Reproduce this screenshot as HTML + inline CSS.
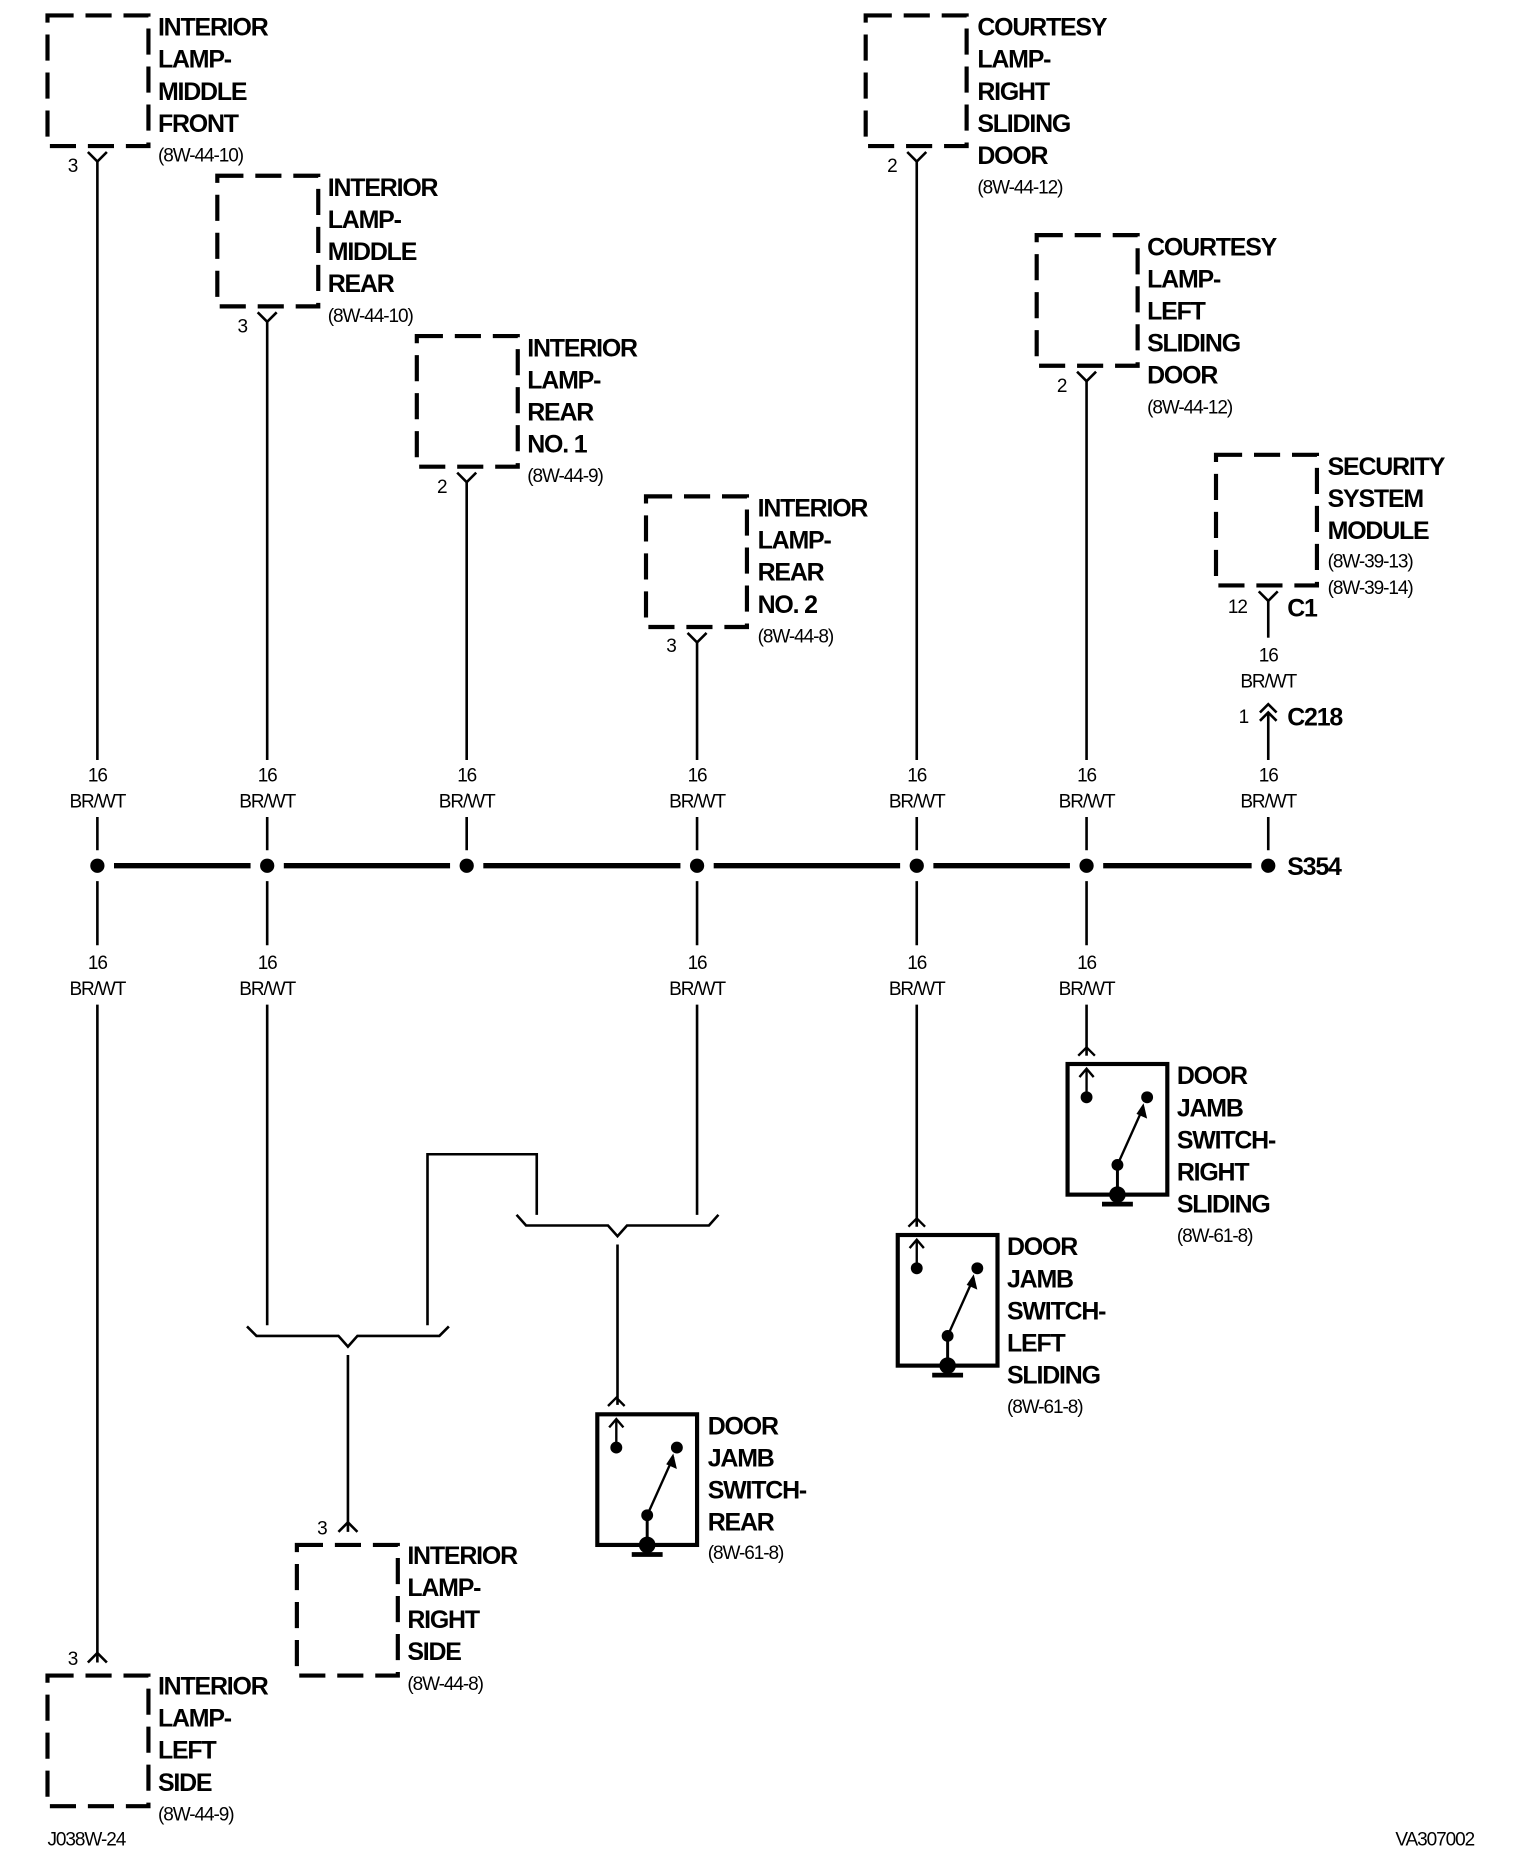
<!DOCTYPE html>
<html><head><meta charset="utf-8"><style>
html,body{margin:0;padding:0;background:#fff;}
svg{display:block;}
.b{font-family:"Liberation Sans",sans-serif;font-weight:bold;font-size:21px;letter-spacing:-1px;fill:#000;}
.s{font-family:"Liberation Sans",sans-serif;font-size:16px;letter-spacing:-0.9px;fill:#000;}
.w{font-family:"Liberation Sans",sans-serif;font-size:16px;letter-spacing:-0.9px;fill:#000;text-anchor:middle;}
</style></head><body>
<svg width="1520" height="1862" viewBox="0 0 1280 1568" preserveAspectRatio="none" xmlns="http://www.w3.org/2000/svg">
<defs>
<g id="dbox"><rect x="0" y="0" width="85" height="110" fill="none" stroke="#000" stroke-width="3.5" stroke-dasharray="22 10" stroke-dashoffset="0"/></g>
<g id="sw" fill="none" stroke="#000">
<rect x="0" y="0" width="84" height="110" stroke-width="3.5"/>
<polyline points="9,-7 16,-14 23,-7" stroke-width="2"/>
<line x1="16" y1="4" x2="16" y2="27" stroke-width="2"/>
<polyline points="10,11 16,4 22,11" stroke-width="2"/>
<line x1="42" y1="85" x2="64" y2="36" stroke-width="2"/>
<polygon points="64,33 67,46 58,42" fill="#000" stroke="none"/>
<line x1="42" y1="85" x2="42" y2="110" stroke-width="2.5"/>
<circle cx="16" cy="28" r="5" fill="#000" stroke="none"/>
<circle cx="67" cy="28" r="5" fill="#000" stroke="none"/>
<circle cx="42" cy="85" r="5" fill="#000" stroke="none"/>
<circle cx="42" cy="110" r="7" fill="#000" stroke="none"/>
<line x1="29" y1="118" x2="55" y2="118" stroke-width="4"/>
</g>
</defs>

<!-- dashed boxes -->
<use href="#dbox" x="40" y="13"/>
<use href="#dbox" x="183" y="148"/>
<use href="#dbox" x="351" y="283"/>
<use href="#dbox" x="544" y="418"/>
<use href="#dbox" x="729" y="13"/>
<use href="#dbox" x="873" y="198"/>
<use href="#dbox" x="1024" y="383"/>
<use href="#dbox" x="250" y="1301"/>
<use href="#dbox" x="40" y="1411"/>

<!-- switches -->
<use href="#sw" x="503" y="1191"/>
<use href="#sw" x="756" y="1040"/>
<use href="#sw" x="899" y="896"/>

<g fill="none" stroke="#000" stroke-width="2.2">
<!-- top Y connectors -->
<polyline points="74,128 82,136 90,128"/><polyline points="217,263 225,271 233,263"/>
<polyline points="385,398 393,406 401,398"/><polyline points="579,533 587,541 595,533"/>
<polyline points="764,128 772,136 780,128"/><polyline points="907,313 915,321 923,313"/>
<polyline points="1060,498 1068,506 1076,498"/>
<!-- upper wires -->
<line x1="82" y1="136" x2="82" y2="640"/><line x1="225" y1="271" x2="225" y2="640"/>
<line x1="393" y1="406" x2="393" y2="640"/><line x1="587" y1="541" x2="587" y2="640"/>
<line x1="772" y1="136" x2="772" y2="640"/><line x1="915" y1="321" x2="915" y2="640"/>
<line x1="1068" y1="506" x2="1068" y2="537"/>
<polyline points="1061,600 1068,593 1075,600"/><polyline points="1061,607 1068,600 1075,607"/>
<line x1="1068" y1="600" x2="1068" y2="640"/>
<line x1="82" y1="688" x2="82" y2="716"/><line x1="225" y1="688" x2="225" y2="716"/>
<line x1="393" y1="688" x2="393" y2="716"/><line x1="587" y1="688" x2="587" y2="716"/>
<line x1="772" y1="688" x2="772" y2="716"/><line x1="915" y1="688" x2="915" y2="716"/>
<line x1="1068" y1="688" x2="1068" y2="716"/>
<!-- lower stubs -->
<line x1="82" y1="742" x2="82" y2="796"/><line x1="225" y1="742" x2="225" y2="796"/>
<line x1="587" y1="742" x2="587" y2="796"/><line x1="772" y1="742" x2="772" y2="796"/>
<line x1="915" y1="742" x2="915" y2="796"/>
<!-- lower wires -->
<line x1="82" y1="846" x2="82" y2="1400"/><polyline points="74,1400 82,1392 90,1400"/>
<line x1="225" y1="846" x2="225" y2="1116"/>
<line x1="587" y1="846" x2="587" y2="1023"/>
<line x1="772" y1="846" x2="772" y2="1033"/>
<line x1="915" y1="846" x2="915" y2="889"/>
<polyline points="360,1116 360,972 452,972 452,1023"/>
<polyline points="208,1117 216,1125 285,1125 293,1134 301,1125 370,1125 378,1117"/>
<line x1="293" y1="1141" x2="293" y2="1290"/><polyline points="285,1290 293,1282 301,1290"/>
<polyline points="435,1023 443,1032 512,1032 520,1041 528,1032 597,1032 605,1023"/>
<line x1="520" y1="1048" x2="520" y2="1183"/>
</g>
<!-- splice -->
<g stroke="#000" stroke-width="4.5">
<line x1="96" y1="729" x2="211" y2="729"/><line x1="239" y1="729" x2="379" y2="729"/>
<line x1="407" y1="729" x2="573" y2="729"/><line x1="601" y1="729" x2="758" y2="729"/>
<line x1="786" y1="729" x2="901" y2="729"/><line x1="929" y1="729" x2="1054" y2="729"/>
</g>
<g fill="#000">
<circle cx="82" cy="729" r="6"/><circle cx="225" cy="729" r="6"/><circle cx="393" cy="729" r="6"/>
<circle cx="587" cy="729" r="6"/><circle cx="772" cy="729" r="6"/><circle cx="915" cy="729" r="6"/>
<circle cx="1068" cy="729" r="6"/>
</g>

<!-- wire labels -->
<g class="w">
<text x="82" y="658">16</text><text x="82" y="680">BR/WT</text>
<text x="225" y="658">16</text><text x="225" y="680">BR/WT</text>
<text x="393" y="658">16</text><text x="393" y="680">BR/WT</text>
<text x="587" y="658">16</text><text x="587" y="680">BR/WT</text>
<text x="772" y="658">16</text><text x="772" y="680">BR/WT</text>
<text x="915" y="658">16</text><text x="915" y="680">BR/WT</text>
<text x="1068" y="658">16</text><text x="1068" y="680">BR/WT</text>
<text x="82" y="816">16</text><text x="82" y="838">BR/WT</text>
<text x="225" y="816">16</text><text x="225" y="838">BR/WT</text>
<text x="587" y="816">16</text><text x="587" y="838">BR/WT</text>
<text x="772" y="816">16</text><text x="772" y="838">BR/WT</text>
<text x="915" y="816">16</text><text x="915" y="838">BR/WT</text>
<text x="1068" y="557">16</text><text x="1068" y="579">BR/WT</text>
</g>
<g class="s">
<text x="57" y="145">3</text><text x="200" y="280">3</text><text x="368" y="415">2</text>
<text x="561" y="549">3</text><text x="747" y="145">2</text><text x="890" y="330">2</text>
<text x="1034" y="516">12</text><text x="1043" y="609">1</text>
<text x="57" y="1402">3</text><text x="267" y="1292">3</text>
<text x="40" y="1554">J038W-24</text><text x="1175" y="1554">VA307002</text>
</g>
<g class="b">
<text x="1084" y="519">C1</text><text x="1084" y="611">C218</text><text x="1084" y="737">S354</text>
<text x="133" y="30">INTERIOR</text><text x="133" y="57">LAMP-</text><text x="133" y="84">MIDDLE</text><text x="133" y="111">FRONT</text>
<text x="276" y="165">INTERIOR</text><text x="276" y="192">LAMP-</text><text x="276" y="219">MIDDLE</text><text x="276" y="246">REAR</text>
<text x="444" y="300">INTERIOR</text><text x="444" y="327">LAMP-</text><text x="444" y="354">REAR</text><text x="444" y="381">NO. 1</text>
<text x="638" y="435">INTERIOR</text><text x="638" y="462">LAMP-</text><text x="638" y="489">REAR</text><text x="638" y="516">NO. 2</text>
<text x="823" y="30">COURTESY</text><text x="823" y="57">LAMP-</text><text x="823" y="84">RIGHT</text><text x="823" y="111">SLIDING</text><text x="823" y="138">DOOR</text>
<text x="966" y="215">COURTESY</text><text x="966" y="242">LAMP-</text><text x="966" y="269">LEFT</text><text x="966" y="296">SLIDING</text><text x="966" y="323">DOOR</text>
<text x="1118" y="400">SECURITY</text><text x="1118" y="427">SYSTEM</text><text x="1118" y="454">MODULE</text>
<text x="991" y="913">DOOR</text><text x="991" y="940">JAMB</text><text x="991" y="967">SWITCH-</text><text x="991" y="994">RIGHT</text><text x="991" y="1021">SLIDING</text>
<text x="848" y="1057">DOOR</text><text x="848" y="1084">JAMB</text><text x="848" y="1111">SWITCH-</text><text x="848" y="1138">LEFT</text><text x="848" y="1165">SLIDING</text>
<text x="596" y="1208">DOOR</text><text x="596" y="1235">JAMB</text><text x="596" y="1262">SWITCH-</text><text x="596" y="1289">REAR</text>
<text x="343" y="1317">INTERIOR</text><text x="343" y="1344">LAMP-</text><text x="343" y="1371">RIGHT</text><text x="343" y="1398">SIDE</text>
<text x="133" y="1427">INTERIOR</text><text x="133" y="1454">LAMP-</text><text x="133" y="1481">LEFT</text><text x="133" y="1508">SIDE</text>
</g>
<g class="s">
<text x="133" y="136">(8W-44-10)</text><text x="276" y="271">(8W-44-10)</text><text x="444" y="406">(8W-44-9)</text>
<text x="638" y="541">(8W-44-8)</text><text x="823" y="163">(8W-44-12)</text><text x="966" y="348">(8W-44-12)</text>
<text x="1118" y="478">(8W-39-13)</text><text x="1118" y="500">(8W-39-14)</text>
<text x="991" y="1046">(8W-61-8)</text><text x="848" y="1190">(8W-61-8)</text><text x="596" y="1313">(8W-61-8)</text>
<text x="343" y="1423">(8W-44-8)</text><text x="133" y="1533">(8W-44-9)</text>
</g>
</svg>
</body></html>
